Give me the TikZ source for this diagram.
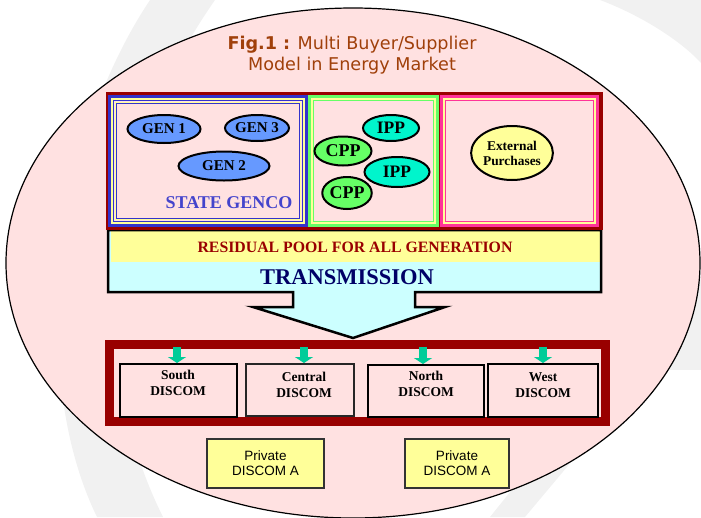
\documentclass[tikz,border=0pt]{standalone}
\usepackage{fontspec}
\setmainfont{Liberation Serif}
\newfontfamily\titlefont{DejaVu Sans}
\newfontfamily\arialfont{Liberation Sans}
\usetikzlibrary{shapes.geometric,arrows.meta}
\definecolor{pinkbg}{HTML}{FFE1E1}
\definecolor{darkred}{HTML}{990000}
\definecolor{genblue}{HTML}{6699FF}
\definecolor{frblue}{HTML}{3333CC}
\definecolor{gencotxt}{HTML}{4444CC}
\definecolor{frgreen}{HTML}{66FF66}
\definecolor{ippc}{HTML}{00F5CC}
\definecolor{cppc}{HTML}{66FF66}
\definecolor{frmag}{HTML}{FF3399}
\definecolor{yellowc}{HTML}{FFFF99}
\definecolor{lcyan}{HTML}{CCFFFF}
\definecolor{navy}{HTML}{000066}
\definecolor{titlec}{HTML}{A0400A}
\definecolor{garrowc}{HTML}{00CC99}
\definecolor{privborder}{HTML}{333333}
\definecolor{wmark}{HTML}{F1F1F1}
\newcommand\myfs[2]{\fontsize{#1}{#2}\selectfont}
\newcommand\tframe[5]{%
  \fill[#5] (#1,#2) rectangle (#3,#4);
  \fill[yellowc] (#1+3,#2+3) rectangle (#3-3,#4-3);
  \fill[#5] (#1+5,#2+5) rectangle (#3-5,#4-5);
  \fill[pinkbg] (#1+6,#2+6) rectangle (#3-6,#4-6);
}
\begin{document}
\begin{tikzpicture}[x=1pt,y=-1pt,
  oval/.style={ellipse,draw=black,line width=2pt,inner sep=0pt},
  gen/.style={oval,fill=genblue,font=\bfseries\myfs{15}{15}},
  ipp/.style={oval,fill=ippc,font=\bfseries\myfs{17.5}{17.5}},
  cpp/.style={oval,fill=cppc,font=\bfseries\myfs{18}{18}},
  disc/.style={draw=black,line width=2pt,inner sep=0pt,anchor=north west},
  disct/.style={font=\bfseries\myfs{13.5}{16},align=center,inner sep=0pt},
  priv/.style={draw=privborder,line width=1.5pt,fill=yellowc,font=\arialfont\myfs{13.5}{15},align=center,inner sep=0pt},
  garrow/.style={draw=garrowc,line width=8pt,-{Triangle[width=18pt,length=6pt]}},
]
\useasboundingbox (0,0) rectangle (701,517);
% faint watermark
\fill[wmark] (150,0) -- (215,0) .. controls (110,150) and (80,350) .. (163,517) -- (97,517) .. controls (30,380) and (50,150) .. (150,0) -- cycle;
\fill[wmark] (600,0) .. controls (640,15) and (680,40) .. (701,63) -- (701,0) -- cycle;
\fill[wmark] (670,277) rectangle (701,370);
\fill[wmark] (490,517) -- (525,517) -- (640,380) -- (600,380) -- cycle;
% big ellipse
\node[ellipse,draw=black,line width=1.2pt,fill=pinkbg,minimum width=694pt,minimum height=510pt,inner sep=0pt] (outer) at (353,263) {};
% title
\node[font=\titlefont\myfs{17.6}{21},text=titlec,align=center,inner sep=0pt] (title) at (352,55) {\textbf{Fig.1 :} Multi Buyer/Supplier\\Model in Energy Market};
% block arrow (pool / transmission)
\path[fill=lcyan] (108,230) -- (601,230) -- (601,292) -- (415,292) -- (415,307) -- (445,307) -- (353,338) -- (253,307) -- (293,307) -- (293,292) -- (108,292) -- cycle;
\fill[yellowc] (111,231) rectangle (600,262);
\draw[line width=2.5pt,line join=miter] (108,230) -- (601,230) -- (601,292) -- (415,292) -- (415,307) -- (445,307) -- (353,338) -- (253,307) -- (293,307) -- (293,292) -- (108,292) -- cycle;
\node[font=\bfseries\myfs{15.8}{16},text=darkred,inner sep=0pt] (residual) at (355,247) {RESIDUAL POOL FOR ALL GENERATION};
\node[font=\bfseries\myfs{22.5}{23},text=navy,inner sep=0pt] (trans) at (347,277) {TRANSMISSION};
% generation frame
\fill[darkred] (106,92) rectangle (603,230);
\tframe{108}{95}{308}{227}{frblue}
\fill[yellowc] (115,102) rectangle (301,220);
\fill[frblue] (116,103) rectangle (300,219);
\fill[pinkbg] (117,104) rectangle (299,218);
\tframe{308}{95}{439}{227}{frgreen}
\tframe{440}{95}{599}{227}{frmag}
% state genco
\node[gen,minimum width=73pt,minimum height=28pt] (gen1) at (164,129) {GEN 1};
\node[gen,minimum width=64pt,minimum height=26pt] (gen3) at (257,128) {GEN 3};
\node[gen,minimum width=91pt,minimum height=29pt] (gen2) at (224,166) {GEN 2};
\node[font=\bfseries\myfs{18}{18},text=gencotxt,inner sep=0pt] (genco) at (229,203) {STATE GENCO};
% IPP / CPP
\node[ipp,minimum width=56pt,minimum height=26pt] (ipp1) at (391,128) {IPP};
\node[ipp,minimum width=65pt,minimum height=30pt] (ipp2) at (397,172) {IPP};
\node[cpp,minimum width=57pt,minimum height=29pt] (cpp1) at (343,151) {CPP};
\node[cpp,minimum width=49pt,minimum height=32pt] (cpp2) at (347,193) {CPP};
% external purchases
\node[oval,fill=yellowc,minimum width=78pt,minimum height=54pt,font=\bfseries\myfs{13.4}{15},align=center] (ext) at (512,153) {External\\Purchases};
% discom frame
\draw[darkred,line width=9pt] (109.5,344.5) rectangle (605.5,421.5);
\node[disc,minimum width=117pt,minimum height=53pt] (south) at (119,363) {};
\node[disc,draw=black!85,line width=1.5pt,minimum width=108pt,minimum height=52pt] (central) at (245,363) {};
\node[disc,minimum width=116pt,minimum height=52pt] (north) at (367,364) {};
\node[disc,minimum width=110pt,minimum height=53pt] (west) at (487,363) {};
\node[disct] (southt) at (178,383) {South\\DISCOM};
\node[disct] (centralt) at (304,385) {Central\\DISCOM};
\node[disct] (northt) at (426,384) {North\\DISCOM};
\node[disct] (westt) at (543,385) {West\\DISCOM};
\coordinate (as) at (177,347);
\coordinate (ac) at (304,347);
\coordinate (an) at (423,347);
\coordinate (aw) at (543,347);
\draw[garrow] (as) -- (as |- south.north);
\draw[garrow] (ac) -- (ac |- central.north);
\draw[garrow] (an) -- (an |- north.north);
\draw[garrow] (aw) -- (aw |- west.north);
% private discoms
\node[priv,minimum width=117pt,minimum height=49pt] (privA) at (265.5,463.5) {Private\\DISCOM A};
\node[priv,minimum width=104pt,minimum height=49pt] (privB) at (457,463.5) {Private\\DISCOM A};
\end{tikzpicture}
\end{document}
